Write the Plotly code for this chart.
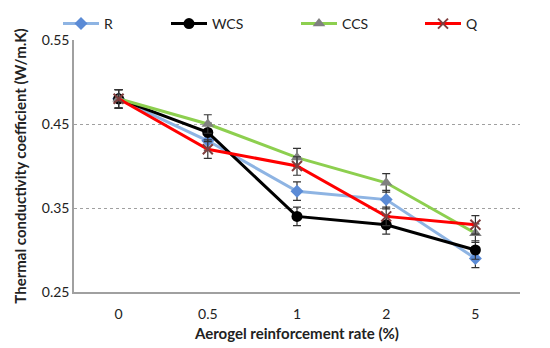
import plotly.graph_objects as go

categories = ["0", "0.5", "1", "2", "5"]
R = [0.48, 0.43, 0.37, 0.36, 0.29]
WCS = [0.48, 0.44, 0.34, 0.33, 0.30]
CCS = [0.48, 0.45, 0.41, 0.38, 0.32]
Q = [0.48, 0.42, 0.40, 0.34, 0.33]
err = [0.011, 0.011, 0.011, 0.011, 0.011]

font = "Lato, Open Sans, sans-serif"

series = [
    ("R", R, "#8EB4E3", dict(symbol="diamond", size=10, color="#5B8BD6")),
    ("WCS", WCS, "#000000", dict(symbol="circle", size=11, color="#000000")),
    ("CCS", CCS, "#8DCF4F", dict(symbol="triangle-up", size=11, color="#808080")),
    ("Q", Q, "#FF0000", dict(symbol="x-thin", size=10, color="#7F3F3F",
                             line=dict(width=2, color="#7F3F3F"))),
]
legend_ids = ["legend", "legend2", "legend3", "legend4"]
legend_x_px = [50, 158, 288, 412]

fig = go.Figure()
for (name, vals, lc, mk), lid in zip(series, legend_ids):
    fig.add_trace(go.Scatter(
        x=categories, y=vals, name=name, mode="lines+markers",
        line=dict(color=lc, width=3), marker=mk, legend=lid,
        error_y=dict(type="data", array=err, visible=True, color="#333333",
                     thickness=1.2, width=4),
    ))

legend_style = dict(orientation="h", y=1.0, xanchor="left", yanchor="top",
                    xref="container", yref="container",
                    font=dict(size=14), itemwidth=36, bgcolor="rgba(0,0,0,0)")
layout_legends = {lid: dict(legend_style, x=px / 550) for lid, px in zip(legend_ids, legend_x_px)}

fig.update_layout(
    width=550, height=348,
    margin=dict(l=66, r=38, t=32, b=64, autoexpand=False),
    paper_bgcolor="white", plot_bgcolor="white",
    font=dict(family=font, size=13, color="#222222"),
    showlegend=True,
    **layout_legends,
)
fig.update_xaxes(
    type="category", showline=True, linecolor="#A0A0A0", linewidth=1.5,
    showgrid=False, ticks="outside", ticklen=8, tickcolor="rgba(0,0,0,0)",
    tickfont=dict(size=14),
    title=dict(text="<b>Aerogel reinforcement rate (%)</b>", font=dict(size=15), standoff=8),
    range=[-0.5, 4.5],
)
fig.update_yaxes(
    range=[0.25, 0.55], tickvals=[0.25, 0.35, 0.45, 0.55],
    ticktext=["0.25", "0.35", "0.45", "0.55"],
    showline=True, linecolor="#A0A0A0", linewidth=1.5,
    showgrid=True, gridcolor="#A0A0A0", griddash="dot", gridwidth=1,
    zeroline=False, tickfont=dict(size=14), ticks="",
    title=dict(text="<b>Thermal conductivity coefficient (W/m.K)</b>", font=dict(size=15), standoff=12),
)

fig.write_html("out.html")
